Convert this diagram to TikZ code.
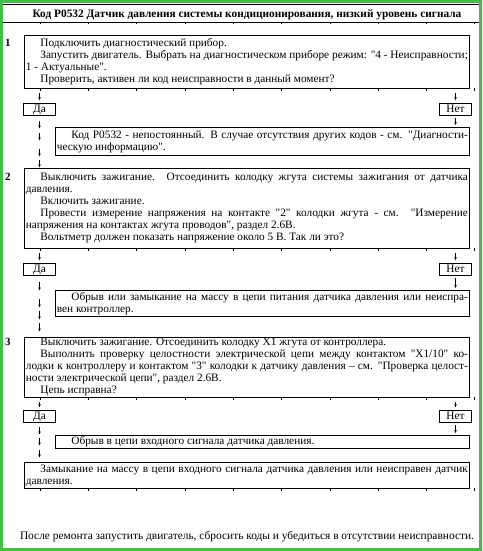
\documentclass[tikz,border=0pt]{standalone}
\usepackage{fontspec}
\setmainfont{Liberation Serif}[Ligatures=TeXOff]
\usetikzlibrary{arrows.meta,calc}
\definecolor{frameg}{RGB}{70,190,70}
\newcommand\pind{\hspace*{14.5pt}}
\begin{document}
\begin{tikzpicture}[x=1pt,y=-1pt,
  txt/.style={font=\fontsize{11.3}{12}\selectfont},
  box/.style={draw, line width=0.8pt, anchor=north west, inner xsep=1.5pt, inner ysep=1pt,
    align=justify, txt,
    execute at begin node={\tolerance=9999\hyphenpenalty=10000\parindent=0pt}},
  wbox/.style={box, text width=442pt},
  nbox/.style={box, text width=411pt},
  yn/.style={draw, line width=0.7pt, minimum width=32pt, minimum height=12pt, inner sep=0pt,
    text height=7.3pt, text depth=0pt, txt},
  darr/.style={-{Stealth[length=3pt,width=2.6pt]}, line width=0.6pt},
  tick/.style={line width=0.5pt},
  numlab/.style={font=\fontsize{11}{12}\selectfont\bfseries}
]
\useasboundingbox (0,0) rectangle (482,551);
\fill[white] (0,0) rectangle (482,551);
\draw[frameg, line width=2.6pt] (1.3,1.3) rectangle (480.7,549.7);

% title
\draw[line width=0.6pt] (3,4) -- (479,4);
\node[font=\fontsize{11.35}{12}\selectfont\bfseries] (title) at (247,14.5) {Код P0532 Датчик давления системы кондиционирования, низкий уровень сигнала};
\draw[line width=0.8pt] (3,22) -- (479,22);

% step 1
\node[numlab] (n1) at (8,43) {1};
\node[wbox, minimum height=53pt] (b1) at (24,35) {\pind Подключить диагностический прибор.\par
\pind Запустить двигатель. Выбрать на диагностическом приборе режим: "4 - Неисправности;\linebreak 1 - Актуальные".\par
\pind Проверить, активен ли код неисправности в данный момент?};
\node[yn] (da1) at (39.5,109) {Да};
\node[yn] (net1) at (455.5,109) {Нет};
\node[nbox, minimum height=28pt] (b1a) at (55,127) {\pind Код P0532 - непостоянный. В случае отсутствия других кодов - см. "Диагности-\linebreak ческую информацию".};

% step 2
\node[numlab] (n2) at (8,177) {2};
\node[wbox, minimum height=80pt] (b2) at (24,168) {\pind Выключить зажигание. Отсоединить колодку жгута системы зажигания от датчика\linebreak давления.\par
\pind Включить зажигание.\par
\pind Провести измерение напряжения на контакте "2" колодки жгута - см. "Измерение\linebreak напряжения на контактах жгута проводов", раздел 2.6В.\par
\pind Вольтметр должен показать напряжение около 5 В. Так ли это?};
\node[yn] (da2) at (39.5,269) {Да};
\node[yn] (net2) at (455.5,269) {Нет};
\node[nbox, minimum height=26pt] (b2a) at (55,290) {\pind Обрыв или замыкание на массу в цепи питания датчика давления или неиспра-\linebreak вен контроллер.};

% step 3
\node[numlab] (n3) at (8,342) {3};
\node[wbox, minimum height=60pt] (b3) at (24,337) {\pind Выключить зажигание. Отсоединить колодку X1 жгута от контроллера.\par
\pind Выполнить проверку целостности электрической цепи между контактом "X1/10" ко-\linebreak лодки к контроллеру и контактом "3" колодки к датчику давления – см. "Проверка целост-\linebreak ности электрической цепи", раздел 2.6В.\par
\pind Цепь исправна?};
\node[yn] (da3) at (39.5,416) {Да};
\node[yn] (net3) at (455.5,416) {Нет};
\node[nbox, minimum height=13pt] (b3a) at (55,435) {\pind Обрыв в цепи входного сигнала датчика давления.};
\node[wbox, minimum height=26pt] (b3b) at (24,462) {\pind Замыкание на массу в цепи входного сигнала датчика давления или неисправен датчик\linebreak давления.};

\node[font=\fontsize{11.4}{12}\selectfont] (foot) at (247,537) {После ремонта запустить двигатель, сбросить коды и убедиться в отсутствии неисправности.};

% connectors
\foreach \da/\net/\b in {da1/net1/b1, da2/net2/b2, da3/net3/b3}{
  \draw[darr] ($(\b.south -| \da)+(0,4.5)$) -- ($(\da.north)+(0,-2.5)$);
  \draw[darr] ($(\b.south -| \net)+(0,4.5)$) -- ($(\net.north)+(0,-2.5)$);
}
\draw[darr] ($(net1.south)+(0,2.5)$) -- ($(b1a.north -| net1)+(0,-2)$);
\draw[darr] ($(net2.south)+(0,2.5)$) -- ($(b2a.north -| net2)+(0,-2)$);
\draw[darr] ($(net3.south)+(0,2.5)$) -- ($(b3a.north -| net3)+(0,-2)$);
\foreach \s in {6,18,34,45} \draw[darr] ($(da1.south)+(0,\s)$) -- ++(0,7);
\foreach \s in {7,24,36,48} \draw[darr] ($(da2.south)+(0,\s)$) -- ++(0,8);
\foreach \s in {5,16,28} \draw[darr] ($(da3.south)+(0,\s)$) -- ++(0,7);

% tab ticks under lines
\foreach \yy in {22,88,248,397,488}
  \foreach \k in {0,...,9} \draw[tick] (40+48.3*\k,\yy) -- ++(0,2.5);
\end{tikzpicture}
\end{document}
